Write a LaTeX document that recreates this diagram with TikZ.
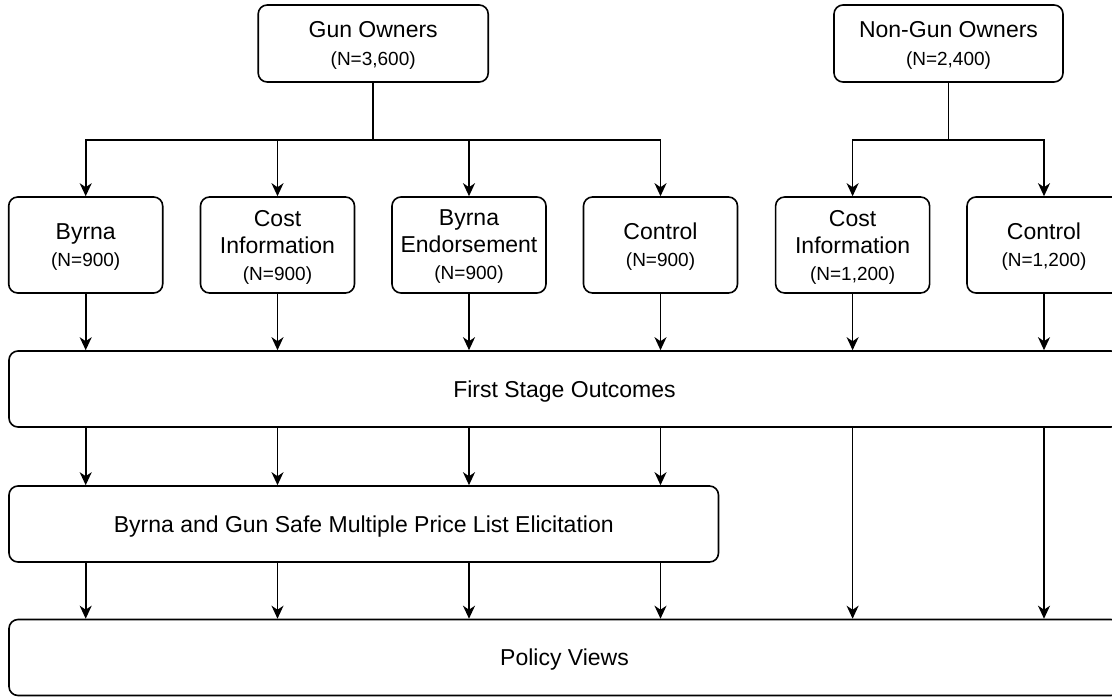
\documentclass[tikz,border=0pt]{standalone}
\usepackage{fontspec}
\setmainfont{Liberation Sans}
\usetikzlibrary{arrows.meta}

\begin{document}
\begin{tikzpicture}
[
    x=0.5pt, y=-0.5pt,
    box/.style={draw, rounded corners=4.5pt, line width=0.8pt, inner sep=0pt,
        align=center, text depth=0pt, font=\fontsize{11.5}{13.5}\selectfont},
    arm/.style={box, minimum width=77pt, minimum height=48pt},
    band/.style={box, minimum height=38pt},
    arr/.style={line width=0.8pt, -{Stealth[length=6.5pt, width=6pt, inset=2pt]}},
]
\useasboundingbox (0,0) rectangle (1112,696);

\node [box, minimum width=115pt, minimum height=38.5pt] (gun) at (373.2,43.5)
{Gun Owners\\[0.5pt]{\fontsize{9.5}{11}\selectfont (N=3,600)}};
\node [box, minimum width=114.5pt, minimum height=38.5pt] (nongun) at (948.5,43.5)
{Non-Gun Owners\\[0.5pt]{\fontsize{9.5}{11}\selectfont (N=2,400)}};

\node [arm] (byrna) at (85.7,245)
{Byrna\\[0pt]{\fontsize{9.5}{11}\selectfont (N=900)}};
\node [arm] (cost) at (277.5,245)
{Cost\\Information\\[0pt]{\fontsize{9.5}{11}\selectfont (N=900)}};
\node [arm] (endorse) at (469,245)
{Byrna\\Endorsement\\[0pt]{\fontsize{9.5}{11}\selectfont (N=900)}};
\node [arm] (control) at (660.5,245)
{Control\\[0pt]{\fontsize{9.5}{11}\selectfont (N=900)}};
\node [arm] (ncost) at (852.6,245)
{Cost\\Information\\[0pt]{\fontsize{9.5}{11}\selectfont (N=1,200)}};
\node [arm] (ncontrol) at (1044,245)
{Control\\[0pt]{\fontsize{9.5}{11}\selectfont (N=1,200)}};

\node [band, minimum width=555.5pt] (stage) at (564.5,389) {First Stage Outcomes};
\node [band, minimum width=354.75pt] (mpl) at (363.75,524)
{Byrna and Gun Safe Multiple Price List Elicitation};
\node [band, minimum width=555.5pt] (policy) at (564.5,657.5) {Policy Views};

\draw [arr] (gun.south) -- ++(0,57) -| (byrna.north);
\draw [arr] (gun.south) -- ++(0,57) -| (cost.north);
\draw [arr] (gun.south) -- ++(0,57) -| (endorse.north);
\draw [arr] (gun.south) -- ++(0,57) -| (control.north);
\draw [arr] (nongun.south) -- ++(0,57) -| (ncost.north);
\draw [arr] (nongun.south) -- ++(0,57) -| (ncontrol.north);

\draw [arr] (byrna) -- (byrna |- stage.north);
\draw [arr] (cost) -- (cost |- stage.north);
\draw [arr] (endorse) -- (endorse |- stage.north);
\draw [arr] (control) -- (control |- stage.north);
\draw [arr] (ncost) -- (ncost |- stage.north);
\draw [arr] (ncontrol) -- (ncontrol |- stage.north);

\draw [arr] (byrna |- stage.south) -- (byrna |- mpl.north);
\draw [arr] (cost |- stage.south) -- (cost |- mpl.north);
\draw [arr] (endorse |- stage.south) -- (endorse |- mpl.north);
\draw [arr] (control |- stage.south) -- (control |- mpl.north);
\draw [arr] (ncost |- stage.south) -- (ncost |- policy.north);
\draw [arr] (ncontrol |- stage.south) -- (ncontrol |- policy.north);

\draw [arr] (byrna |- mpl.south) -- (byrna |- policy.north);
\draw [arr] (cost |- mpl.south) -- (cost |- policy.north);
\draw [arr] (endorse |- mpl.south) -- (endorse |- policy.north);
\draw [arr] (control |- mpl.south) -- (control |- policy.north);
\end{tikzpicture}
\end{document}
